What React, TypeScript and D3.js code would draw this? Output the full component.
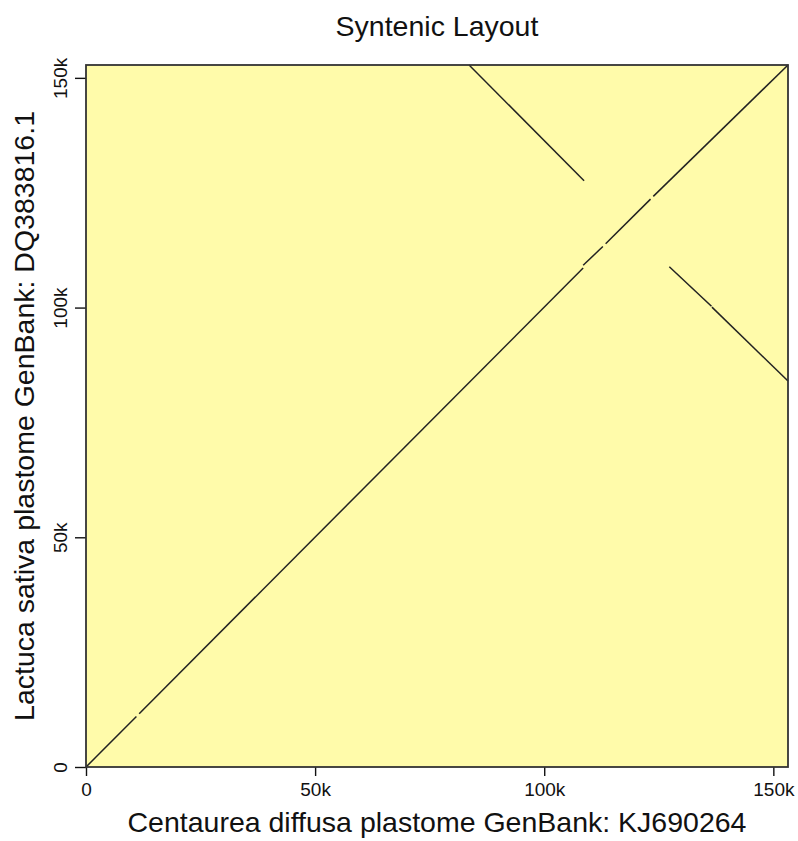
import React, { useEffect, useRef } from "react";
import * as d3 from "d3";

// genome lengths (bp)
const xLength = 153200;
const yLength = 152800;

// alignment segments: [x start, y start, x end, y end]
const forwardSegments = [
  [0, 0, 11000, 11000],
  [11600, 11600, 108500, 108600],
  [108500, 109200, 112800, 113300],
  [113400, 113900, 123200, 123600],
  [123800, 124200, 153200, 152800],
];
const reverseSegments = [
  [83600, 152800, 108700, 127600],
  [127300, 108900, 136500, 100300],
  [136600, 100100, 153200, 84000],
];

const tickValues = [0, 50000, 100000, 150000];
const tickLabels = ["0", "50k", "100k", "150k"];

const titleText = "Syntenic Layout";
const xTitle = "Centaurea diffusa plastome GenBank: KJ690264";
const yTitle = "Lactuca sativa plastome GenBank: DQ383816.1";

const App = () => {
  const ref = useRef<SVGSVGElement>(null);

  useEffect(() => {
    const svg = d3.select(ref.current);
    svg.selectAll("*").remove();

    const width = 798;
    const height = 841;
    const margin = { left: 86, right: 10, top: 65, bottom: 74 };
    const font = "Liberation Sans, Arial, sans-serif";

    const x = d3.scaleLinear().domain([0, xLength]).range([margin.left, width - margin.right]);
    const y = d3.scaleLinear().domain([0, yLength]).range([height - margin.bottom, margin.top]);

    // plot background
    svg.append("rect")
      .attr("x", margin.left)
      .attr("y", margin.top)
      .attr("width", width - margin.left - margin.right)
      .attr("height", height - margin.top - margin.bottom)
      .attr("fill", "#fffbaa");

    const fmt = (d: number) => tickLabels[tickValues.indexOf(d)];

    // x axis
    const gx = svg.append("g")
      .attr("transform", `translate(0,${height - margin.bottom})`)
      .call(d3.axisBottom(x).tickValues(tickValues).tickFormat(fmt as any).tickSize(9).tickSizeOuter(0));
    gx.select(".domain").remove();
    gx.selectAll("line").attr("stroke", "#111").attr("stroke-width", 1.4);
    gx.selectAll("text")
      .attr("font-family", font)
      .attr("font-size", 19)
      .attr("fill", "#111")
      .attr("y", 29)
      .attr("dy", null);

    // y axis, labels turned
    const gy = svg.append("g")
      .attr("transform", `translate(${margin.left},0)`)
      .call(d3.axisLeft(y).tickValues(tickValues).tickFormat(fmt as any).tickSize(11).tickSizeOuter(0));
    gy.select(".domain").remove();
    gy.selectAll("line").attr("stroke", "#111").attr("stroke-width", 1.4);
    gy.selectAll("text")
      .attr("font-family", font)
      .attr("font-size", 19)
      .attr("fill", "#111")
      .attr("x", null)
      .attr("dy", null)
      .attr("text-anchor", "middle")
      .attr("transform", "translate(-19,0) rotate(-90)");

    // alignment lines
    const all = [...forwardSegments, ...reverseSegments];
    svg.append("g")
      .selectAll("line")
      .data(all)
      .enter()
      .append("line")
      .attr("x1", d => x(d[0]))
      .attr("y1", d => y(d[1]))
      .attr("x2", d => x(d[2]))
      .attr("y2", d => y(d[3]))
      .attr("stroke", "#222")
      .attr("stroke-width", 1.5);

    // plot border
    svg.append("rect")
      .attr("x", margin.left)
      .attr("y", margin.top)
      .attr("width", width - margin.left - margin.right)
      .attr("height", height - margin.top - margin.bottom)
      .attr("fill", "none")
      .attr("stroke", "#333")
      .attr("stroke-width", 1.8);

    const cx = (margin.left + width - margin.right) / 2;
    svg.append("text")
      .attr("x", cx)
      .attr("y", 36)
      .attr("text-anchor", "middle")
      .attr("font-family", font)
      .attr("font-size", 28.5)
      .attr("fill", "#111")
      .text(titleText);

    svg.append("text")
      .attr("x", cx)
      .attr("y", 832)
      .attr("text-anchor", "middle")
      .attr("font-family", font)
      .attr("font-size", 28.5)
      .attr("fill", "#111")
      .text(xTitle);

    const cy = (margin.top + height - margin.bottom) / 2;
    svg.append("text")
      .attr("transform", `translate(34,${cy}) rotate(-90)`)
      .attr("text-anchor", "middle")
      .attr("font-family", font)
      .attr("font-size", 28.5)
      .attr("fill", "#111")
      .text(yTitle);
  }, []);

  return (
    <svg
      ref={ref}
      width={798}
      height={841}
      style={{ position: "absolute", left: 0, top: 0, background: "#fff" }}
    />
  );
};

export default App;
